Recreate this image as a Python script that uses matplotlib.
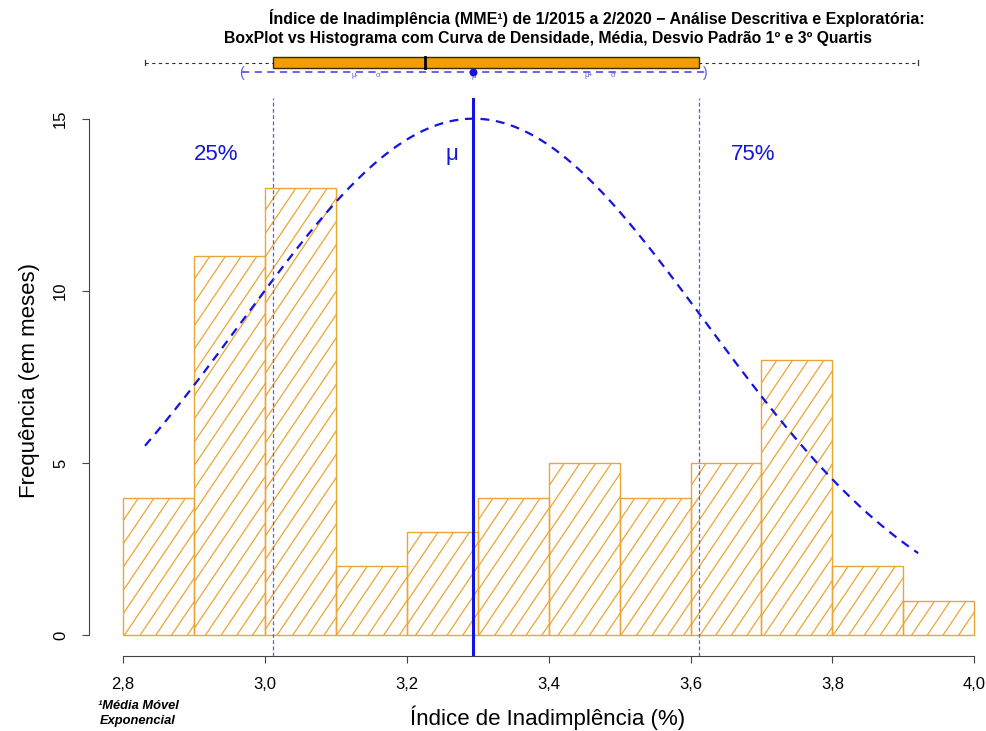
import matplotlib
matplotlib.use("Agg")
import matplotlib.pyplot as plt
from matplotlib.patches import Rectangle
from matplotlib.collections import LineCollection
from matplotlib.transforms import IdentityTransform
import numpy as np

plt.rcParams['font.family'] = ['Liberation Sans', 'DejaVu Sans']

# histogram of the monthly index (MME), 1/2015 - 2/2020
bin_edges = [2.8, 2.9, 3.0, 3.1, 3.2, 3.3, 3.4, 3.5, 3.6, 3.7, 3.8, 3.9, 4.0]
counts = [4, 11, 13, 2, 3, 4, 5, 4, 5, 8, 2, 1]

# descriptive stats
val_min = 2.831
q1 = 3.011
median = 3.226
mean = 3.294
q3 = 3.612
val_max = 3.921
sd = 0.327
curve_peak = 15.0

x_ticks = [2.8, 3.0, 3.2, 3.4, 3.6, 3.8, 4.0]
x_tick_labels = ["2,8", "3,0", "3,2", "3,4", "3,6", "3,8", "4,0"]
y_ticks = [0, 5, 10, 15]

W, H = 987, 731
BLUE = '#1414e0'
LIGHT_BLUE = '#5a5ae6'
ORANGE = '#eba537'

fig = plt.figure(figsize=(W / 100, H / 100), dpi=100)

# main histogram panel (pixel layout of the R device)
left_px, right_px, top_px, bot_px = 89, 987, 98, 656
ax = fig.add_axes([left_px / W, 1 - bot_px / H, (right_px - left_px) / W, (bot_px - top_px) / H])
ax.set_xlim(2.752, 4.018)
ax.set_ylim(-0.6, 15.6)

lefts = bin_edges[:-1]
widths = np.diff(bin_edges)
bars = ax.bar(lefts, counts, width=widths, align='edge', facecolor='none',
              edgecolor=ORANGE, linewidth=1.0, zorder=2)

# R-style hatching (density lines), drawn in device pixels and clipped to each bar
hatch_angle = np.deg2rad(56)
hatch_step = 15.7
cot = 1 / np.tan(hatch_angle)
for bar in bars:
  (x0, y0), (x1, y1) = ax.transData.transform([[bar.get_x(), bar.get_y()],
                                                [bar.get_x() + bar.get_width(), bar.get_y() + bar.get_height()]])
  segs = []
  c = x0 - (y1 - y0) * cot
  while c < x1:
    segs.append([(c, y0), (c + (y1 - y0) * cot, y1)])
    c += hatch_step
  lc = LineCollection(segs, colors=ORANGE, linewidths=0.9, transform=IdentityTransform(), zorder=1)
  ax.add_collection(lc)
  lc.set_clip_path(bar)

# density curve
xs = np.linspace(val_min, val_max, 300)
ys = curve_peak * np.exp(-(xs - mean) ** 2 / (2 * sd ** 2))
ax.plot(xs, ys, color=BLUE, lw=1.6, dashes=(4, 3), zorder=3)

# mean and quartile lines
ax.axvline(mean, color=BLUE, lw=2.2, zorder=4)
ax.axvline(q1, color=LIGHT_BLUE, lw=0.9, dashes=(3, 2), zorder=4)
ax.axvline(q3, color=LIGHT_BLUE, lw=0.9, dashes=(3, 2), zorder=4)

ax.text(2.931, 13.95, "25%", color=BLUE, fontsize=16, ha='center', va='center')
ax.text(3.264, 13.95, "μ", color=BLUE, fontsize=16, ha='center', va='center')
ax.text(3.688, 13.95, "75%", color=BLUE, fontsize=16, ha='center', va='center')

for s in ['top', 'right']:
  ax.spines[s].set_visible(False)
ax.spines['bottom'].set_bounds(2.8, 4.0)
ax.spines['left'].set_bounds(0, 15)
ax.spines['bottom'].set_color('#444444')
ax.spines['left'].set_color('#444444')
ax.set_xticks(x_ticks)
ax.set_xticklabels(x_tick_labels)
ax.set_yticks(y_ticks)
ax.tick_params(axis='x', length=5, pad=10, labelsize=12, color='#444444')
ax.tick_params(axis='y', length=5, pad=10, labelsize=12, color='#444444', labelrotation=90)
for lab in ax.get_yticklabels():
  lab.set_va('center')

# boxplot strip on top (y in device pixels)
bax = fig.add_axes([left_px / W, 1 - 86 / H, (right_px - left_px) / W, 36 / H], sharex=ax)
bax.set_ylim(86, 50)
bax.axis('off')
box_top, box_bot, box_mid = 57, 68, 62.5
bax.plot([val_min, val_max], [box_mid, box_mid], color='#333333', lw=0.8, dashes=(3, 3), zorder=1)
bax.plot([val_min, val_min], [box_mid - 2.5, box_mid + 2.5], color='#333333', lw=0.9)
bax.plot([val_max, val_max], [box_mid - 2.5, box_mid + 2.5], color='#333333', lw=0.9)
bax.add_patch(Rectangle((q1, box_top), q3 - q1, box_bot - box_top, facecolor='#f29d00',
                        edgecolor='#3a2a00', lw=1.0, zorder=2))
bax.plot([median, median], [box_top, box_bot], color='black', lw=2.0, zorder=3)

sd_y = 71.5
bax.plot([mean - sd, mean + sd], [sd_y, sd_y], color=LIGHT_BLUE, lw=1.3, dashes=(4, 3), zorder=4)
bax.scatter([mean], [sd_y], s=22, color=BLUE, zorder=5)
bax.text(mean - sd, sd_y + 1, "(", color=LIGHT_BLUE, fontsize=10, ha='center', va='center')
bax.text(mean + sd, sd_y + 1, ")", color=LIGHT_BLUE, fontsize=10, ha='center', va='center')
bax.text(mean - 0.51 * sd, 75.5, "μ-", color=LIGHT_BLUE, fontsize=5.5, ha='center', va='center')
bax.text(mean - 0.41 * sd, 75.5, "σ", color=LIGHT_BLUE, fontsize=5.5, ha='center', va='center')
bax.text(mean + 0.50 * sd, 75.5, "μ+", color=LIGHT_BLUE, fontsize=5.5, ha='center', va='center')
bax.text(mean + 0.60 * sd, 75.5, "σ", color=LIGHT_BLUE, fontsize=5.5, ha='center', va='center')
bax.text(mean, 76, "μ", color=LIGHT_BLUE, fontsize=5.5, ha='center', va='center')

# titles and labels
fig.text(597 / W, 1 - 18 / H,
         "Índice de Inadimplência (MME¹) de 1/2015 a 2/2020 − Análise Descritiva e Exploratória:",
         fontsize=11.5, fontweight='bold', ha='center', va='center')
fig.text(548 / W, 1 - 38 / H,
         "BoxPlot vs Histograma com Curva de Densidade, Média, Desvio Padrão 1º e 3º Quartis",
         fontsize=11.3, fontweight='bold', ha='center', va='center')
fig.text(548 / W, 1 - 718 / H, "Índice de Inadimplência (%)", fontsize=16, ha='center', va='center')
fig.text(30 / W, 1 - 381 / H, "Frequência (em meses)", fontsize=16, ha='center', va='center', rotation=90)
fig.text(138 / W, 1 - 706 / H, "¹Média Móvel", fontsize=9.3, fontweight='bold', style='italic',
         ha='center', va='center')
fig.text(138 / W, 1 - 721 / H, "Exponencial", fontsize=9.3, fontweight='bold', style='italic',
         ha='center', va='center')

fig.savefig("out.png", dpi=100)
